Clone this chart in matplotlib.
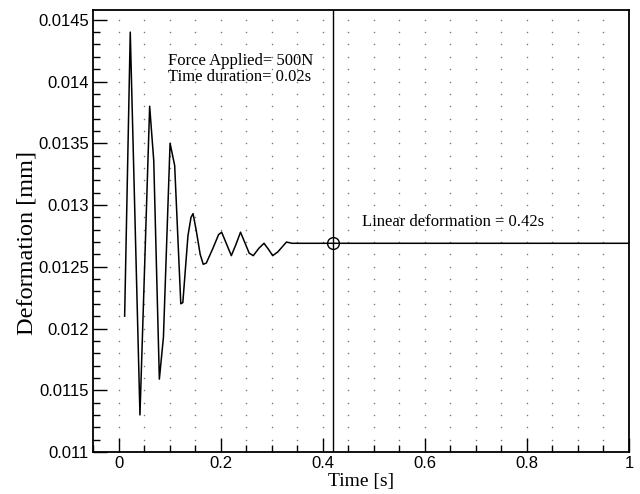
import numpy as np
import matplotlib.pyplot as plt

# -----Data-----
time = [0.012, 0.023, 0.042, 0.061, 0.069, 0.080, 0.088, 0.101, 0.110, 0.122,
        0.126, 0.136, 0.142, 0.146, 0.152, 0.160, 0.166, 0.172, 0.185, 0.196,
        0.202, 0.210, 0.221, 0.230, 0.239, 0.247, 0.256, 0.264, 0.275, 0.285,
        0.294, 0.302, 0.312, 0.329, 0.340, 0.352, 1.0]
deformation = [0.01210, 0.01440, 0.01130, 0.01380, 0.01336, 0.01159, 0.01193, 0.01350, 0.01332, 0.01220,
               0.01221, 0.01275, 0.01290, 0.01293, 0.01280, 0.01260, 0.01252, 0.01253, 0.01265, 0.01276,
               0.01278, 0.01270, 0.01259, 0.01268, 0.01278, 0.01270, 0.01261, 0.01259, 0.01265, 0.01269,
               0.01264, 0.01259, 0.01262, 0.01270, 0.01269, 0.01269, 0.01269]
linear_time = 0.42
linear_def = 0.01269

x_ticks = [0, 0.2, 0.4, 0.6, 0.8, 1]
y_ticks = [0.011, 0.0115, 0.012, 0.0125, 0.013, 0.0135, 0.014, 0.0145]
y_labels = ['0.011', '0.0115', '0.012', '0.0125', '0.013', '0.0135', '0.014', '0.0145']

serif = 'Liberation Serif'
sans = 'Liberation Sans'

fig = plt.figure(figsize=(6.4, 4.94), dpi=100)
ax = fig.add_axes([0.1453, 0.085, 0.8375, 0.895])

# dotted point grid at minor tick positions
gx, gy = np.meshgrid(np.arange(0, 1.0001, 0.05), np.arange(0.0111, 0.01458, 0.0001))
ax.scatter(gx.ravel(), gy.ravel(), s=1.2, color='#777777', linewidths=0, zorder=1)

ax.plot(time, deformation, color='black', lw=1.1, zorder=3)
ax.axvline(linear_time, color='black', lw=1.0, zorder=3)
ax.plot([linear_time], [linear_def], marker='o', ms=8.5, mfc='none', mec='black', mew=1.0, zorder=4)

ax.text(0.096, 0.01423, 'Force Applied= 500N\nTime duration= 0.02s', family=serif,
        fontsize=12, va='top', ha='left', linespacing=1.0)
ax.text(0.4765, 0.01286, 'Linear deformation = 0.42s', family=serif,
        fontsize=12, va='center', ha='left')

ax.set_xlim(-0.05, 1)
ax.set_ylim(0.011, 0.01458)
ax.set_xticks(x_ticks)
ax.set_xticklabels([str(v) for v in x_ticks])
ax.set_xticks(np.arange(-0.05, 1.0001, 0.05), minor=True)
ax.set_yticks(y_ticks)
ax.set_yticklabels(y_labels)
ax.set_yticks(np.arange(0.011, 0.01458, 0.0001), minor=True)
ax.tick_params(which='both', direction='in', top=False, right=False, labelsize=12, width=1.0)
ax.tick_params(which='major', length=10, pad=3)
ax.tick_params(which='minor', length=5)
for lab in ax.get_xticklabels() + ax.get_yticklabels():
    lab.set_family(sans)

ax.set_xlabel('Time [s]', family=serif, fontsize=14, labelpad=1)
ax.set_ylabel('Deformation [mm]', family=serif, fontsize=17.5)
ax.yaxis.set_label_coords(-0.103, 0.473)
for s in ax.spines.values():
    s.set_linewidth(1.3)

fig.savefig('out.png', dpi=100)
